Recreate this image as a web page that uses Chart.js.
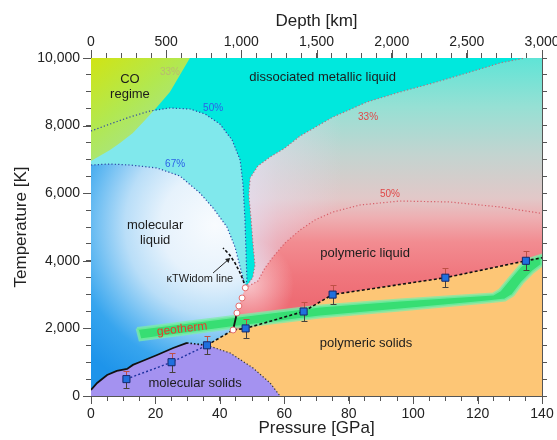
<!DOCTYPE html>
<html>
<head>
<meta charset="utf-8">
<script src="https://cdn.jsdelivr.net/npm/chart.js@4.4.1/dist/chart.umd.min.js"></script>
<style>
html,body{margin:0;padding:0;background:#ffffff;}
#wrap{width:557px;height:440px;}
</style>
</head>
<body>
<div id="wrap"><canvas id="chart" width="557" height="440"></canvas></div>
<script>
// ---------- tick labels ----------
const pressureTicks = [0, 20, 40, 60, 80, 100, 120, 140];
const pressureTickLabels = ['0', '20', '40', '60', '80', '100', '120', '140'];
const temperatureTicks = [0, 2000, 4000, 6000, 8000, 10000];
const temperatureTickLabels = ['0', '2,000', '4,000', '6,000', '8,000', '10,000'];
const depthTicks = [0, 500, 1000, 1500, 2000, 2500, 3000];
const depthTickLabels = ['0', '500', '1,000', '1,500', '2,000', '2,500', '3,000'];

// ---------- boundaries [pressure GPa, temperature K] ----------
const coBoundary = [[30.7,10000],[27.6,9497],[24.5,8994],[20.5,8550],[16.8,8166],[13.0,7781],[9.0,7485],[5.9,7278],[0,6950]];
const blue50Line = [[0,7840],[5.9,8047],[12.1,8255],[18.3,8432],[24.5,8521],[30.7,8491],[35.4,8343],[40.0,8047],[43.8,7574],[46.3,6982],[47.2,6243],[47.8,5207],[48.1,4320],[48.4,3432],[47.9,3200]];
const blue67Line = [[0,6834],[5.9,6864],[12.1,6834],[20.5,6746],[27.6,6509],[33.8,6006],[37.9,5562],[42.2,5000],[44.7,4408],[46.3,3817],[47.8,3284],[47.9,3200]];
const red33Line = [[47.9,3200],[50.2,3500],[50.9,3876],[50.3,4467],[49.7,5207],[49.0,5947],[49.4,6450],[51.8,6805],[55.6,7071],[60.2,7337],[64.9,7692],[75.1,8254],[85.7,8698],[95.9,8994],[106.2,9260],[116.7,9556],[127.0,9852],[134.7,10000]];
const red50Line = [[47.9,3200],[51.8,3400],[54.0,3787],[56.5,4113],[60.2,4527],[64.9,4911],[69.5,5207],[75.1,5444],[83.5,5651],[95.9,5769],[111.4,5740],[127.0,5592],[140,5400]];
const liquidLiquidPoints = [[44.1,1953],[45.3,2456],[45.9,2663],[46.9,2900],[47.9,3200]];
const liquidLiquidSolid = [[44.1,1953],[45.3,2456]];
const widomLine = [[47.9,3200],[47.2,3432],[46.0,3700],[44.7,3935],[43.0,4180],[41.0,4380]];
const widomArrow = [[37.9,3640],[42.5,4024]];
const molecularMeltCurve = [[0,180],[1.9,385],[5,620],[8,740],[11.2,800],[13,920],[15.2,1005],[20.5,1213],[25.5,1420],[29.8,1570]];
const tripleLink = [[29.8,1570],[36,1500]];
const solidSolidBoundary = [[36,1500],[43.2,1272],[50.3,828],[55.6,385],[58.7,0]];
const meltLine = [[36,1500],[44.1,1953],[48,2000],[66,2500],[75,3000],[110,3500],[135,4000],[140,4090]];
const geothermTop = [[14.3,2000],[43.2,2338],[71.1,2663],[95.9,2841],[124.8,3018],[126.9,3136],[130.0,3491],[133.2,3847],[136.3,4054],[140,4172]];
const geothermBottom = [[15.2,1660],[43.2,2012],[71.1,2338],[95.9,2545],[122.9,2781],[128.5,2840],[131.0,2988],[133.8,3343],[137.2,3669],[140,3876]];

// ---------- measured melting points ----------
const meltP = [11, 25, 36, 48, 66, 75, 110, 135];
const meltT = [500, 1000, 1500, 2000, 2500, 3000, 3500, 4000];
const meltErr = [250, 280, 270, 280, 280, 280, 280, 280];
const molSolidP = [11, 25, 36];
const molSolidT = [500, 1000, 1500];

// ---------- text ----------
const regionLabels = [
  {text:'CO', P:12.1, T:9379, size:13, color:'#1c1c1c'},
  {text:'regime', P:12.1, T:8935, size:13, color:'#1c1c1c'},
  {text:'33%', P:24.5, T:9586, size:10, color:'#b9bb70'},
  {text:'dissociated metallic liquid', P:71.9, T:9438, size:13, color:'#1c1c1c'},
  {text:'50%', P:37.9, T:8521, size:10, color:'#2b62e6'},
  {text:'67%', P:26.1, T:6864, size:10, color:'#2b62e6'},
  {text:'33%', P:86.0, T:8254, size:10, color:'#e04848'},
  {text:'50%', P:92.8, T:5976, size:10, color:'#e04848'},
  {text:'molecular', P:19.9, T:5059, size:13, color:'#1c1c1c'},
  {text:'liquid', P:19.9, T:4615, size:13, color:'#1c1c1c'},
  {text:'\u03baTWidom line', P:33.8, T:3462, size:11, color:'#1c1c1c'},
  {text:'polymeric liquid', P:85.1, T:4231, size:13, color:'#1c1c1c'},
  {text:'polymeric solids', P:85.4, T:1568, size:13, color:'#1c1c1c'},
  {text:'molecular solids', P:32.3, T:385, size:13, color:'#1c1c1c'},
  {text:'geotherm', P:28.3, T:1982, size:12, color:'#e8392a', rot:-6.5}
];

const AXIS = '#555555';
const FONT = "'Liberation Sans', Arial, Helvetica, sans-serif";
Chart.defaults.font.family = FONT;

const pts = arr => arr.map(([x, y]) => ({x, y}));
const xy = (a, b) => a.map((v, i) => ({x: v, y: b[i]}));

function grad(fn) {
  return (c) => {
    const ch = c.chart;
    if (!ch.chartArea || !ch.scales.x) return 'rgba(0,0,0,0)';
    return fn(ch.ctx, ch.scales.x, ch.scales.y);
  };
}
function addStops(g, stops) { stops.forEach(([o, col]) => g.addColorStop(o, col)); return g; }

const pinkFill = grad((ctx, sx, sy) => addStops(
  ctx.createLinearGradient(0, sy.getPixelForValue(10000), 0, sy.getPixelForValue(2840)),
  [[0,'rgb(95,228,214)'],[0.2,'rgb(150,224,212)'],[0.4,'rgb(195,212,208)'],[0.58,'rgb(226,200,200)'],[0.66,'rgb(238,175,178)'],[0.76,'rgb(242,140,145)'],[0.9,'rgb(240,118,125)'],[1,'rgb(238,108,116)']]));
const wedgeFill = grad((ctx, sx, sy) => addStops(
  ctx.createLinearGradient(sx.getPixelForValue(47), 0, sx.getPixelForValue(78), 0),
  [[0,'rgba(228,222,240,0.85)'],[0.35,'rgba(228,222,240,0.45)'],[1,'rgba(228,222,240,0)']]));
const critGlow = grad((ctx, sx, sy) => {
  const cx = sx.getPixelForValue(49), cy = sy.getPixelForValue(3300);
  return addStops(ctx.createRadialGradient(cx, cy, 0, cx, cy, 45),
    [[0,'rgba(250,215,220,0.8)'],[1,'rgba(250,215,220,0)']]);
});
const coFill = grad((ctx, sx, sy) => addStops(
  ctx.createLinearGradient(sx.getPixelForValue(0), sy.getPixelForValue(10000), sx.getPixelForValue(24), sy.getPixelForValue(7000)),
  [[0,'rgb(208,228,20)'],[0.45,'rgb(178,232,80)'],[1,'rgb(160,226,165)']]));
const molLiquidFill = grad((ctx, sx, sy) => {
  const cx = sx.getPixelForValue(38.5), cy = sy.getPixelForValue(5050);
  return addStops(ctx.createRadialGradient(cx, cy, 0, cx, cy, 180),
    [[0,'rgb(248,251,254)'],[0.3,'rgb(230,242,252)'],[0.5,'rgb(185,222,248)'],[0.68,'rgb(105,188,242)'],[0.8,'rgb(55,165,238)'],[1,'rgb(30,148,234)']]);
});

function poly(label, points, bg, order, extra) {
  return Object.assign({label, data: pts(points), showLine: true, fill: 'shape', backgroundColor: bg,
    borderColor: 'rgba(0,0,0,0)', borderWidth: 0, pointRadius: 0, tension: 0, order}, extra || {});
}
function line(label, points, color, width, dash, order, extra) {
  return Object.assign({label, data: pts(points), showLine: true, fill: false, borderColor: color,
    borderWidth: width, borderDash: dash, pointRadius: 0, tension: 0, order}, extra || {});
}

const pinkPolygon = liquidLiquidPoints.concat(red33Line.slice(1), [[140,10000],[140,0],[44.1,0]]);
const wedgePolygon = red33Line.concat(red50Line.slice(1).reverse());

const datasets = [
  poly('background', [[0,0],[140,0],[140,10000],[0,10000]], 'rgb(0,232,221)', 100),
  poly('below50', [[0,0]].concat(blue50Line, [[47.9,0]]), 'rgb(128,232,236)', 99),
  poly('molecularLiquid', [[0,0]].concat(blue67Line, [[47.9,0]]), molLiquidFill, 98),
  poly('polymericLiquid', pinkPolygon, pinkFill, 97),
  poly('pinkGlow', pinkPolygon, critGlow, 96.6),
  poly('wedge', wedgePolygon, wedgeFill, 96.5),
  poly('polymericSolids', meltLine.concat([[140,0],[36,0]]), 'rgb(253,198,118)', 96),
  poly('molecularSolids', [[0,0]].concat(molecularMeltCurve, solidSolidBoundary), 'rgb(164,146,240)', 95),
  poly('CO', [[0,10000]].concat(coBoundary), coFill, 94),
  poly('geotherm', geothermTop.concat(geothermBottom.slice().reverse(), [geothermTop[0]]), 'rgb(55,222,115)', 93,
       {borderColor: 'rgba(125,236,170,0.75)', borderWidth: 3}),
  line('blue50', blue50Line, 'rgb(45,70,165)', 1.2, [1.2, 2.2], 50),
  line('blue67', blue67Line, 'rgb(45,70,165)', 1.2, [1.2, 2.2], 50),
  line('red33', red33Line, 'rgb(175,115,130)', 1.2, [1.2, 2.2], 50),
  line('red50', red50Line, 'rgb(215,95,105)', 1.2, [1.2, 2.2], 50),
  line('molMelt', molecularMeltCurve, '#111111', 1.8, [], 40),
  line('tripleLink', tripleLink, '#111111', 1.6, [1.5, 2], 40),
  line('solidSolid', solidSolidBoundary, '#333333', 1.2, [1.2, 2.2], 40),
  line('molSolidPts', xy(molSolidP, molSolidT).map(p => [p.x, p.y]), 'rgb(30,50,160)', 1.4, [2, 2.2], 40),
  line('liquidLiquid', liquidLiquidSolid, '#111111', 1.8, [], 30),
  line('widom', widomLine, '#111111', 1.6, [3, 2], 30),
  Object.assign(line('arrow', widomArrow, '#222222', 1, [], 30), {
    pointRadius: [0, 3], pointStyle: 'triangle', rotation: 49, pointBackgroundColor: '#222222', pointBorderWidth: 0}),
  line('melting-dashed', meltLine, '#111111', 1.6, [3, 2.2], 3),
  {label: 'llCircles', data: pts(liquidLiquidPoints), showLine: false, pointRadius: 3, pointStyle: 'circle',
   pointBackgroundColor: '#ffffff', pointBorderColor: 'rgb(228,110,110)', pointBorderWidth: 1, order: 2},
  {label: 'meltPoints', data: xy(meltP, meltT), showLine: false, pointRadius: 5, pointStyle: 'rect',
   pointBackgroundColor: 'rgb(32,112,222)', pointBorderColor: 'rgb(20,40,110)', pointBorderWidth: 1, order: 1}
];

const errorBars = {
  id: 'errorBars',
  afterDatasetDraw(chart, args) {
    if (chart.data.datasets[args.index].label !== 'melting-dashed') return;
    const c = chart.ctx, sx = chart.scales.x, sy = chart.scales.y;
    c.save();
    c.lineWidth = 1;
    meltP.forEach((p, i) => {
      const x = Math.round(sx.getPixelForValue(p)) + 0.5;
      const yc = sy.getPixelForValue(meltT[i]);
      const yt = Math.round(sy.getPixelForValue(meltT[i] + meltErr[i])) + 0.5;
      const yb = Math.round(sy.getPixelForValue(meltT[i] - meltErr[i])) + 0.5;
      c.strokeStyle = 'rgb(190,80,70)';
      c.beginPath(); c.moveTo(x, yt); c.lineTo(x, yc); c.moveTo(x - 3, yt); c.lineTo(x + 3, yt); c.stroke();
      c.strokeStyle = 'rgb(70,65,60)';
      c.beginPath(); c.moveTo(x, yc); c.lineTo(x, yb); c.moveTo(x - 3, yb); c.lineTo(x + 3, yb); c.stroke();
    });
    c.restore();
  }
};

const textLabels = {
  id: 'textLabels',
  afterDatasetsDraw(chart) {
    const c = chart.ctx, sx = chart.scales.x, sy = chart.scales.y;
    c.save();
    c.textAlign = 'center'; c.textBaseline = 'middle';
    regionLabels.forEach(l => {
      c.save();
      c.translate(sx.getPixelForValue(l.P), sy.getPixelForValue(l.T));
      if (l.rot) c.rotate(l.rot * Math.PI / 180);
      c.font = l.size + 'px ' + FONT;
      c.fillStyle = l.color;
      c.fillText(l.text, 0, 0);
      c.restore();
    });
    c.restore();
  }
};

const majorTicks = {
  id: 'majorTicks',
  afterDraw(chart) {
    const c = chart.ctx, a = chart.chartArea, s = chart.scales;
    const L = 8;
    c.save(); c.strokeStyle = AXIS; c.lineWidth = 1; c.beginPath();
    pressureTicks.forEach(v => { const x = Math.round(s.x.getPixelForValue(v)) + 0.5; c.moveTo(x, a.bottom); c.lineTo(x, a.bottom + L); });
    depthTicks.forEach(v => { const x = Math.round(s.x2.getPixelForValue(v)) + 0.5; c.moveTo(x, a.top); c.lineTo(x, a.top - L); });
    temperatureTicks.forEach(v => { const y = Math.round(s.y.getPixelForValue(v)) + 0.5; c.moveTo(a.left, y); c.lineTo(a.left - L, y); });
    c.stroke(); c.restore();
  }
};

function labelFrom(ticks, labels) {
  return (v) => { const i = ticks.indexOf(v); return i >= 0 ? labels[i] : ''; };
}
const gridOpt = {drawOnChartArea: false, drawTicks: true, tickLength: 5, color: AXIS, tickColor: AXIS, lineWidth: 1};
const borderOpt = {display: true, color: AXIS, width: 1};
const tickFont = {size: 14, family: FONT};
const titleFont = {size: 17, family: FONT};

new Chart(document.getElementById('chart'), {
  type: 'scatter',
  data: {datasets},
  options: {
    responsive: false,
    animation: false,
    layout: {padding: 0},
    plugins: {legend: {display: false}, tooltip: {enabled: false}},
    scales: {
      x: {type: 'linear', axis: 'x', position: 'bottom', min: 0, max: 140,
        ticks: {stepSize: 5, autoSkip: false, maxRotation: 0, padding: 5, color: '#222', font: tickFont,
                callback: labelFrom(pressureTicks, pressureTickLabels)},
        grid: gridOpt, border: borderOpt,
        title: {display: true, text: 'Pressure [GPa]', color: '#222', font: titleFont, padding: {top: 0, bottom: 1}},
        afterFit(sc) { sc.height = 44; sc.paddingLeft = 0; sc.paddingRight = 0; }},
      x2: {type: 'linear', axis: 'x', position: 'top', min: 0, max: 3000,
        ticks: {stepSize: 100, autoSkip: false, maxRotation: 0, padding: 2, color: '#222', font: tickFont,
                callback: labelFrom(depthTicks, depthTickLabels)},
        grid: gridOpt, border: borderOpt,
        title: {display: true, text: 'Depth [km]', color: '#222', font: titleFont, padding: {top: 11, bottom: 0}},
        afterFit(sc) { sc.height = 58; sc.paddingLeft = 0; sc.paddingRight = 0; }},
      y: {type: 'linear', axis: 'y', position: 'left', min: 0, max: 10000,
        ticks: {stepSize: 500, autoSkip: false, padding: 6, color: '#222', font: tickFont,
                callback: labelFrom(temperatureTicks, temperatureTickLabels)},
        grid: gridOpt, border: borderOpt,
        title: {display: true, text: 'Temperature [K]', color: '#222', font: titleFont, padding: {top: 11, bottom: 0}},
        afterFit(sc) { sc.width = 91; sc.paddingTop = 0; sc.paddingBottom = 0; }},
      y2: {type: 'linear', axis: 'y', position: 'right', min: 0, max: 10000,
        ticks: {stepSize: 500, autoSkip: false, display: false},
        grid: gridOpt, border: borderOpt,
        afterFit(sc) { sc.width = 15; sc.paddingTop = 0; sc.paddingBottom = 0; }}
    }
  },
  plugins: [errorBars, textLabels, majorTicks]
});
</script>
</body>
</html>
